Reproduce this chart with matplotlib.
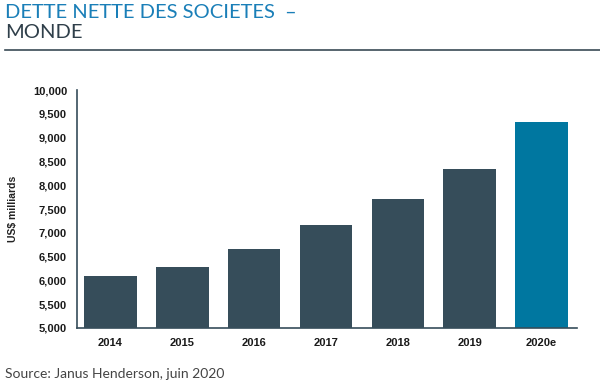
import matplotlib
matplotlib.use("Agg")
import matplotlib.pyplot as plt
from matplotlib.ticker import FuncFormatter

# Dette nette des sociétés - monde (US$ milliards)
annees = ["2014", "2015", "2016", "2017", "2018", "2019", "2020e"]
dette = [6090, 6280, 6660, 7160, 7710, 8340, 9330]
couleurs = ["#364d5a"] * 6 + ["#0077a0"]

fig = plt.figure(figsize=(6, 3.9), dpi=100)
ax = fig.add_axes([0.128, 0.159, 0.834, 0.610])

ax.bar(range(len(annees)), dette, width=0.73, color=couleurs)
ax.set_ylim(5000, 10000)
ax.set_xlim(-0.47, 6.5)
ax.set_yticks(range(5000, 10001, 500))
ax.yaxis.set_major_formatter(FuncFormatter(lambda v, p: f"{int(v):,}"))
ax.set_xticks(range(len(annees)))
ax.set_xticklabels(annees)

for s in ["top", "right"]:
    ax.spines[s].set_visible(False)
for s in ["left", "bottom"]:
    ax.spines[s].set_color("#364d5a")
    ax.spines[s].set_linewidth(1.2)

ax.tick_params(length=0, labelsize=8, labelcolor="#1a1a1a", pad=7)
for lab in ax.get_xticklabels() + ax.get_yticklabels():
    lab.set_family("Liberation Sans")
    lab.set_fontweight("semibold")
ax.set_ylabel("US$ milliards", fontsize=7.5, fontweight="semibold", color="#222222",
              family="Liberation Sans", labelpad=8)
ax.yaxis.set_label_coords(-0.118, 0.5)

# titre
fig.text(0.008, 0.990, "DETTE NETTE DES SOCIETES  \u2013", fontsize=14.5, color="#1a7fb8",
         family="Lato", fontweight="normal", va="top")
fig.text(0.008, 0.938, "MONDE", fontsize=14.5, color="#2f3f4a",
         family="Lato", fontweight="normal", va="top")
fig.add_artist(plt.Line2D([0.008, 1.0], [0.872, 0.872], color="#3a4a55", lw=1.2))

fig.text(0.008, 0.03, "Source: Janus Henderson, juin 2020", fontsize=10, color="#444444",
         family="Lato", fontweight="normal")

fig.savefig("out.png", dpi=100)
